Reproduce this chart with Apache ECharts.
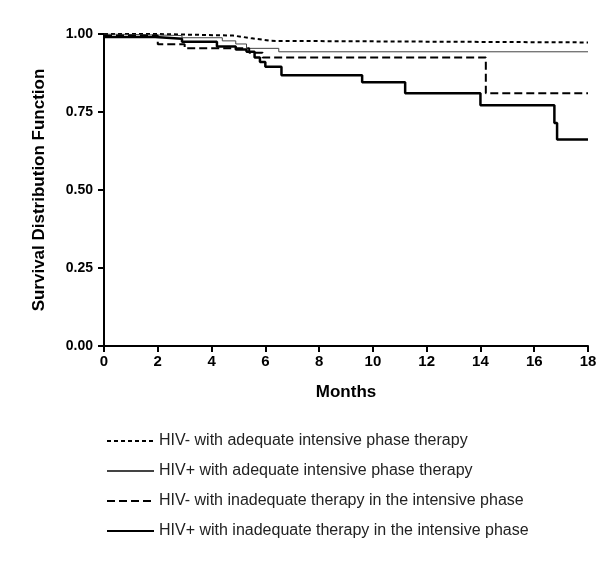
<!DOCTYPE html>
<html>
<head>
<meta charset="utf-8">
<script src="https://cdn.jsdelivr.net/npm/echarts@6/dist/echarts.min.js"></script>
<style>
  html, body { margin: 0; padding: 0; background: #fff; }
  #main { width: 600px; height: 571px; }
</style>
</head>
<body>
<div id="main"></div>
<script>
var myChart = echarts.init(document.getElementById('main'));

// Kaplan-Meier steps: [month, survival from that month on]
var hivNegAdequate = [
    [0, 1.0], [2.0, 0.995], [4.8, 0.99], [5.2, 0.986], [5.5, 0.982], [5.9, 0.978], [6.2, 0.973], [18, 0.973]
];
var hivPosAdequate = [
    [0, 1.0], [0.3, 0.995], [2.9, 0.988], [4.4, 0.978], [4.9, 0.968], [5.3, 0.954], [6.5, 0.943], [18, 0.943]
];
var hivNegInadequate = [
    [0, 0.995], [2.0, 0.967], [3.0, 0.954], [5.4, 0.94], [5.9, 0.925], [14.2, 0.81], [18, 0.81]
];
var hivPosInadequate = [
    [0, 0.99], [1.9, 0.985], [2.9, 0.975], [4.2, 0.96], [4.9, 0.95], [5.3, 0.943],
    [5.6, 0.925], [5.8, 0.91], [6.0, 0.895], [6.6, 0.868], [9.6, 0.845], [11.2, 0.81],
    [14.0, 0.772], [16.75, 0.715], [16.85, 0.662], [18, 0.662]
];
var seriesNames = [
    'HIV- with adequate intensive phase therapy',
    'HIV+ with adequate intensive phase therapy',
    'HIV- with inadequate therapy in the intensive phase',
    'HIV+ with inadequate therapy in the intensive phase'
];

var axisFont = { fontFamily: 'Liberation Sans, Arial', fontWeight: 'bold', color: '#000' };

function kmLine(name, data, width, type, color) {
    return {
        name: name,
        type: 'line',
        step: 'end',
        data: data,
        symbol: 'none',
        silent: true,
        lineStyle: { width: width, type: type, color: color },
        itemStyle: { color: color }
    };
}

var option = {
    animation: false,
    grid: { left: 104, right: 12, top: 34, bottom: 225 },
    legend: {
        orient: 'vertical',
        left: 101,
        top: 428,
        icon: 'inherit',
        itemWidth: 47,
        itemHeight: 10,
        itemGap: 14,
        data: seriesNames,
        itemStyle: { opacity: 0 },
        textStyle: { fontFamily: 'Liberation Sans, Arial', fontSize: 16, color: '#222' }
    },
    xAxis: {
        type: 'value',
        min: 0, max: 18, interval: 2,
        name: 'Months',
        nameLocation: 'middle',
        nameGap: 38,
        nameTextStyle: Object.assign({ fontSize: 17 }, axisFont),
        axisLine: { lineStyle: { color: '#000', width: 2 } },
        axisTick: { lineStyle: { color: '#000', width: 2 }, length: 6 },
        axisLabel: Object.assign({ fontSize: 15, margin: 8 }, axisFont),
        splitLine: { show: false }
    },
    yAxis: {
        type: 'value',
        min: 0, max: 1, interval: 0.25,
        name: 'Survival Distribution Function',
        nameLocation: 'middle',
        nameGap: 56,
        nameTextStyle: Object.assign({ fontSize: 17 }, axisFont),
        axisLine: { show: true, lineStyle: { color: '#000', width: 2 } },
        axisTick: { show: true, lineStyle: { color: '#000', width: 2 }, length: 6 },
        axisLabel: Object.assign({ fontSize: 14, margin: 11, formatter: function (v) { return v.toFixed(2); } }, axisFont),
        splitLine: { show: false }
    },
    series: [
        kmLine(seriesNames[0], hivNegAdequate, 2, [4, 3], '#000'),
        kmLine(seriesNames[1], hivPosAdequate, 1, 'solid', '#444'),
        kmLine(seriesNames[2], hivNegInadequate, 2, [8, 4], '#000'),
        kmLine(seriesNames[3], hivPosInadequate, 2.5, 'solid', '#000')
    ]
};

myChart.setOption(option);
</script>
</body>
</html>
